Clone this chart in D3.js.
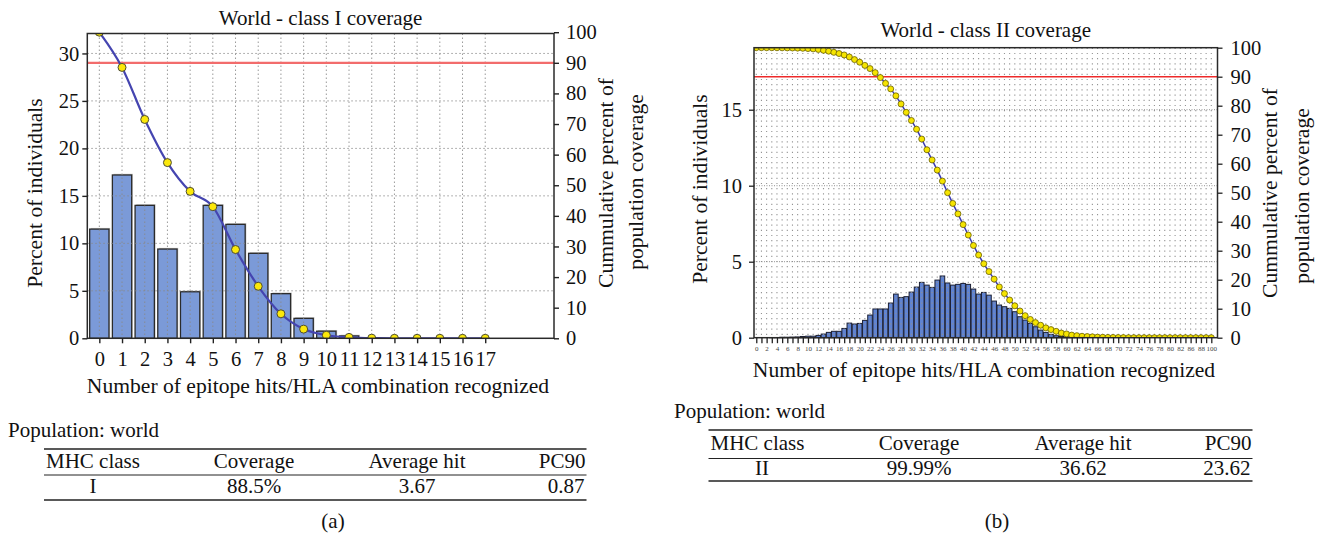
<!DOCTYPE html>
<html><head><meta charset="utf-8">
<script src="https://cdn.jsdelivr.net/npm/d3@7/dist/d3.min.js"></script>
<style>
html,body{margin:0;padding:0;background:#fff;}
svg{display:block;}
</style></head><body>
<svg id="c" width="1319" height="539"></svg>
<script>
// ---------- data: class I ----------
const hitsI = [0,1,2,3,4,5,6,7,8,9,10,11,12,13,14,15,16,17];
const pctI  = [11.5,17.2,14.0,9.4,4.9,14.0,12.0,8.95,4.7,2.1,0.75,0.25,0,0,0,0,0,0];
const cumI  = [100,88.5,71.5,57.4,48.0,43.0,29.0,17.0,8.0,3.0,1.0,0.3,0.05,0,0,0,0,0];
const yTicksI = [0,5,10,15,20,25,30];

// ---------- data: class II ----------
const hitsII = [0,1,2,3,4,5,6,7,8,9,10,11,12,13,14,15,16,17,18,19,20,21,22,23,24,25,26,27,28,29,
  30,31,32,33,34,35,36,37,38,39,40,41,42,43,44,45,46,47,48,49,50,51,52,53,54,55,56,57,58,59,
  60,61,62,63,64,65,66,67,68,69,70,71,72,73,74,75,76,77,78,79,80,81,82,83,86,87,88,89,100];
const pctII = [0,0,0,0.01,0.01,0.03,0.03,0.04,0.05,0.08,
  0.1,0.1,0.15,0.24,0.35,0.42,0.42,0.61,0.96,0.9,
  0.94,1.14,1.49,1.89,1.89,1.89,2.28,2.87,2.65,2.7,
  3.0,3.33,3.64,3.46,3.31,3.79,4.06,3.6,3.46,3.51,
  3.57,3.51,3.2,2.87,2.98,2.8,2.41,2.15,2.04,1.93,
  1.71,1.38,1.16,0.94,0.72,0.5,0.35,0.22,0.13,0.08,
  0.05,0.03,0.02,0.01,0,0,0,0,0,0,
  0,0,0,0,0,0,0,0,0,0,
  0,0,0,0,0,0,0,0,0];
const cumII = [100,100,100,99.99,99.98,99.96,99.93,99.9,99.85,99.8,
  99.7,99.6,99.4,99.1,98.8,98.4,98.0,97.5,96.8,95.9,
  95.0,93.9,92.8,91.4,89.7,87.7,85.8,83.4,80.6,77.7,
  74.9,71.9,68.5,64.8,61.3,57.8,54.0,50.0,46.3,42.7,
  39.0,35.4,31.8,28.5,25.5,22.8,20.2,17.5,15.2,13.0,
  11.0,9.2,7.6,6.3,5.2,4.3,3.4,2.8,2.2,1.6,
  1.3,0.9,0.7,0.5,0.4,0.3,0.2,0.15,0.1,0.08,
  0.05,0.03,0.02,0.01,0,0,0,0,0,0,
  0,0,0,0,0,0,0,0,0];
const yTicksII = [0,5,10,15];

const cumTicks = [0,10,20,30,40,50,60,70,80,90,100];
const threshold = 90;

// ---------- tables ----------
const tableHeader = ["MHC class","Coverage","Average hit","PC90"];
const rowI  = ["I","88.5%","3.67","0.87"];
const rowII = ["II","99.99%","36.62","23.62"];

const FONT = '"Liberation Serif","Times New Roman",serif';
const svg = d3.select("#c").style("font-family", FONT);

function panel(cfg){
  const {x0,x1,y0,y1} = cfg.box;
  const g = svg.append("g");
  const idx = cfg.cats.map((d,i)=>i);
  const x = d3.scaleLinear().domain(cfg.xDomain).range([x0,x1]);
  const y = d3.scaleLinear().domain([0,cfg.yMax]).range([y1,y0]);
  const y2 = d3.scaleLinear().domain([0,100]).range(cfg.y2Range);
  const clipId = cfg.id + "-clip";
  svg.append("defs").append("clipPath").attr("id",clipId)
    .append("rect").attr("x",x0).attr("y",y0).attr("width",x1-x0).attr("height",y1-y0);

  // bars
  const bars = cfg.pct.map((v,i)=>({i,v})).filter(d=>d.v>0);
  if (cfg.shadow){
    g.append("g").selectAll("rect").data(bars).join("rect")
      .attr("x",d=>x(d.i)-cfg.barW/2+1.2).attr("y",d=>y(d.v)-1.2)
      .attr("width",cfg.barW).attr("height",d=>y1-y(d.v)+1.2)
      .attr("fill","#c8c8c8");
  }
  g.append("g").selectAll("rect").data(bars).join("rect")
    .attr("x",d=>x(d.i)-cfg.barW/2).attr("y",d=>y(d.v))
    .attr("width",cfg.barW).attr("height",d=>y1-y(d.v))
    .attr("fill",cfg.barFill).attr("stroke",cfg.barStroke).attr("stroke-width",cfg.barSW);

  // grid (drawn over bars)
  const grid = g.append("g");
  grid.selectAll("line.v").data(idx).join("line").attr("class","v")
    .attr("x1",i=>x(i)).attr("x2",i=>x(i)).attr("y1",y0).attr("y2",y1)
    .attr("stroke",cfg.gridV.color).attr("stroke-width",cfg.gridV.w)
    .attr("stroke-dasharray",cfg.gridV.dash).attr("opacity",cfg.gridV.op);
  grid.selectAll("line.h").data(cfg.yTicks.filter(t=>t>0)).join("line").attr("class","h")
    .attr("x1",x0).attr("x2",x1).attr("y1",t=>y(t)).attr("y2",t=>y(t))
    .attr("stroke",cfg.gridH.color).attr("stroke-width",cfg.gridH.w)
    .attr("stroke-dasharray",cfg.gridH.dash).attr("opacity",cfg.gridH.op);

  const clipped = g.append("g").attr("clip-path",`url(#${clipId})`);
  // threshold line
  clipped.append("line").attr("x1",x0).attr("x2",x1)
    .attr("y1",y2(threshold)).attr("y2",y2(threshold))
    .attr("stroke",cfg.redColor).attr("stroke-width",cfg.redW);
  // cumulative line
  const line = d3.line().x((d,i)=>x(i)).y(d=>y2(d)).curve(cfg.curve);
  clipped.append("path").datum(cfg.cum).attr("d",line)
    .attr("fill","none").attr("stroke",cfg.lineColor).attr("stroke-width",cfg.lineW);
  clipped.append("g").selectAll("circle").data(cfg.cum).join("circle")
    .attr("cx",(d,i)=>x(i)).attr("cy",d=>y2(d)).attr("r",cfg.r)
    .attr("fill",cfg.ptFill).attr("stroke",cfg.ptStroke).attr("stroke-width",cfg.ptSW);

  // frame
  g.append("rect").attr("x",x0).attr("y",y0).attr("width",x1-x0).attr("height",y1-y0)
    .attr("fill","none").attr("stroke","#2a2a2a").attr("stroke-width",1.5);

  // axes
  function style(ax, fs){
    ax.attr("font-family",null).attr("font-size",null);
    ax.select(".domain").remove();
    ax.selectAll(".tick line").attr("stroke","#222").attr("stroke-width",cfg.tickW);
    ax.selectAll(".tick text").attr("fill","#111").style("font-size",fs+"px").style("font-family",FONT);
  }
  const axB = g.append("g").attr("transform",`translate(0,${y1})`)
    .call(d3.axisBottom(x).tickValues(idx).tickSize(cfg.xTickLen).tickPadding(cfg.xTickPad)
      .tickFormat(i => (i % cfg.xLabelEvery === 0) ? cfg.cats[i] : ""));
  style(axB, cfg.xTickFS);
  if (cfg.xTickColor) axB.selectAll(".tick text").attr("fill",cfg.xTickColor);
  const axL = g.append("g").attr("transform",`translate(${x0},0)`)
    .call(d3.axisLeft(y).tickValues(cfg.yTicks).tickSize(5).tickPadding(cfg.yLPad));
  style(axL, cfg.tickFS);
  const axR = g.append("g").attr("transform",`translate(${x1},0)`)
    .call(d3.axisRight(y2).tickValues(cumTicks).tickSize(5).tickPadding(cfg.yRPad));
  style(axR, cfg.tickFS);

  // labels
  const T = (txt, tx, ty, fs, rot, anchor) => {
    const t = g.append("text").text(txt).attr("fill","#111")
      .style("font-size",fs+"px").attr("text-anchor",anchor||"middle");
    if (rot) t.attr("transform",`translate(${tx},${ty}) rotate(${rot})`);
    else t.attr("x",tx).attr("y",ty);
    return t;
  };
  T(cfg.title, (x0+x1)/2, cfg.titleY, cfg.titleFS);
  T("Number of epitope hits/HLA combination recognized", cfg.xLabX, cfg.xLabY, cfg.labFS);
  T("Percent of individuals", cfg.yLabX, cfg.yLabY, cfg.labFS, -90);
  T("Cummulative percent of", cfg.y2LabX1, cfg.y2LabY1, cfg.labFS, -90);
  T("population coverage", cfg.y2LabX2, cfg.y2LabY2, cfg.labFS, -90);
}

panel({
  id:"p1", box:{x0:87.3,x1:554,y0:33.5,y1:338.3},
  cats:hitsI, pct:pctI, cum:cumI, yTicks:yTicksI,
  xDomain:[-0.53,20.03], yMax:32.1, y2Range:[338.3,32.2],
  barW:19.3, barFill:"#7b9ad8", barStroke:"#2b2b2b", barSW:1.3, shadow:true,
  gridV:{color:"#8a8a8a",w:1,dash:"1.5,2.5",op:0.85},
  gridH:{color:"#8a8a8a",w:1,dash:"1.5,2.5",op:0.85},
  redColor:"#f26c6c", redW:2.2, lineColor:"#4545b0", lineW:2.2,
  curve:d3.curveMonotoneX, r:4, ptFill:"#fbe80a", ptStroke:"#4d4d33", ptSW:1,
  tickW:1.4, xTickLen:5, xTickPad:8, xLabelEvery:1, xTickFS:20.5, tickFS:20.5,
  yLPad:3, yRPad:7, labFS:21.6, titleFS:21,
  title:"World - class I coverage", titleY:25,
  xLabX:318, xLabY:393,
  yLabX:42, yLabY:193,
  y2LabX1:612.5, y2LabY1:183, y2LabX2:643, y2LabY2:182
});

panel({
  id:"p2", box:{x0:754,x1:1217.5,y0:47.7,y1:337.7},
  cats:hitsII, pct:pctII, cum:cumII, yTicks:yTicksII,
  xDomain:[-0.44,89.2], yMax:19.08, y2Range:[337.7,47.7],
  barW:4.6, barFill:"#5f83d2", barStroke:"#1b1f33", barSW:1, shadow:false,
  gridV:{color:"#8f8f8f",w:1.1,dash:"1.2,4",op:0.95},
  gridH:{color:"#888",w:1,dash:"1,1.5",op:0.9},
  redColor:"#ee2a2a", redW:1.6, lineColor:"#3b3bb3", lineW:1.5,
  curve:d3.curveLinear, r:3, ptFill:"#f5e400", ptStroke:"#6a5f00", ptSW:0.8,
  tickW:1.3, xTickLen:5.5, xTickPad:3.3, xLabelEvery:2, xTickFS:7, xTickColor:"#444", tickFS:20.5,
  yLPad:7, yRPad:8, labFS:21.6, titleFS:21,
  title:"World - class II coverage", titleY:36.7,
  xLabX:984, xLabY:376.5,
  yLabX:706.5, yLabY:189,
  y2LabX1:1277, y2LabY1:193, y2LabX2:1308.5, y2LabY2:196
});

// ---------- tables ----------
function table(cfg){
  const g = svg.append("g").style("font-size","21px").attr("fill","#111");
  g.append("text").text("Population: world").attr("x",cfg.popX).attr("y",cfg.popY);
  const {l,r} = cfg;
  const hl = (yy,w)=>g.append("line").attr("x1",l).attr("x2",r).attr("y1",yy).attr("y2",yy)
    .attr("stroke","#222").attr("stroke-width",w);
  hl(cfg.rule1,1.7); hl(cfg.rule2,1); hl(cfg.rule3,1.7);
  const colX = cfg.cols;
  tableHeader.forEach((h,i)=>{
    g.append("text").text(h).attr("x", i===0? l+2 : (i===3? r-1 : colX[i]))
      .attr("y",cfg.headY).attr("text-anchor", i===0?"start":(i===3?"end":"middle"));
  });
  cfg.row.forEach((v,i)=>{
    g.append("text").text(v).attr("x", i===3? r-2 : colX[i])
      .attr("y",cfg.rowY).attr("text-anchor", i===3?"end":"middle");
  });
  g.append("text").text(cfg.tag).attr("x",cfg.tagX).attr("y",cfg.tagY).attr("text-anchor","middle");
}
table({popX:8, popY:437, l:44, r:586.5, rule1:449, rule2:475, rule3:500,
  headY:468, rowY:492.5, cols:[93,254,417,586], row:rowI, tag:"(a)", tagX:333, tagY:528});
table({popX:674, popY:418, l:708.5, r:1252.5, rule1:430, rule2:458.5, rule3:481,
  headY:450, rowY:475, cols:[762,919,1083,1252], row:rowII, tag:"(b)", tagX:997, tagY:528});
</script>
</body></html>
